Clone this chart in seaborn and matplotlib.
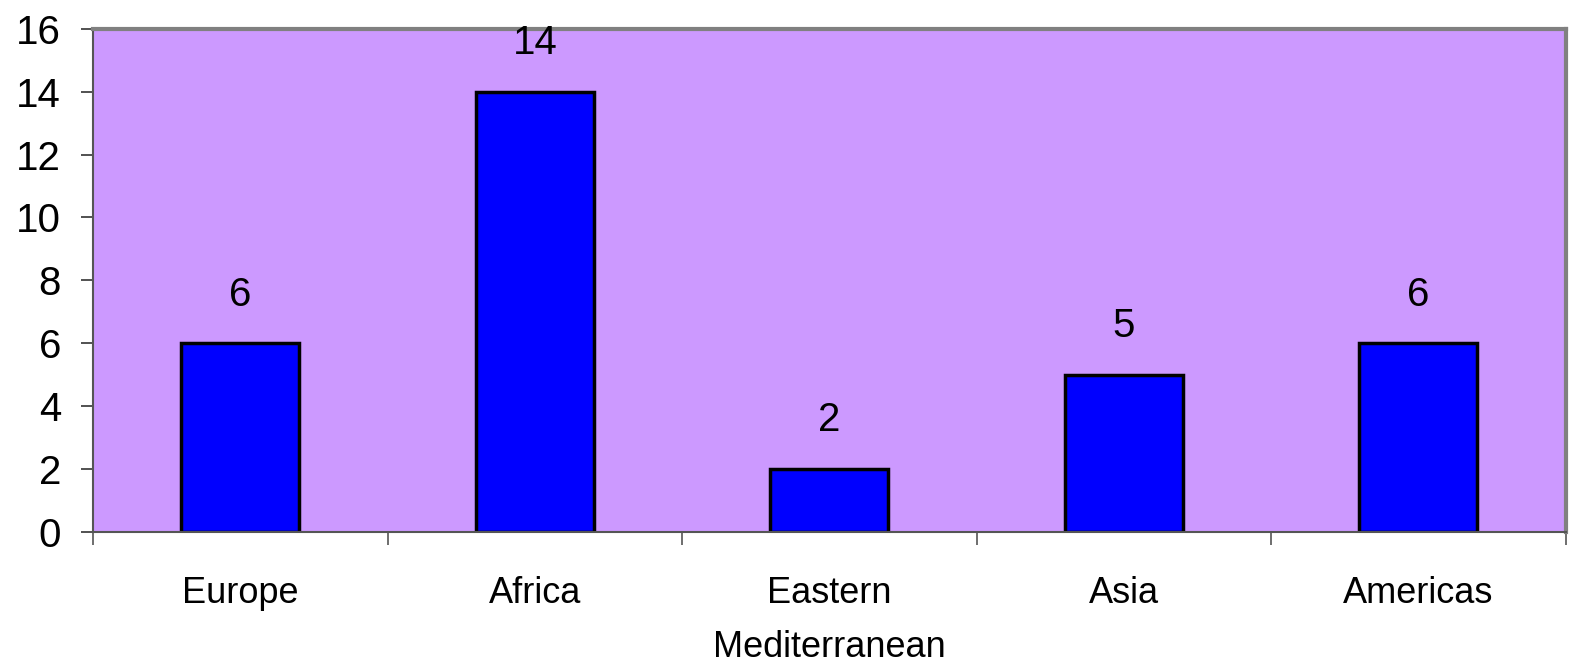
import matplotlib
matplotlib.use("Agg")
import matplotlib.pyplot as plt
import seaborn as sns
import pandas as pd
import numpy as np

regions = ["Europe", "Africa", "Eastern\nMediterranean", "Asia", "Americas"]
counts = [6, 14, 2, 5, 6]
y_ticks = [0, 2, 4, 6, 8, 10, 12, 14, 16]

df = pd.DataFrame({"region": regions, "count": counts})

sns.set_style("white")
plt.rcParams["font.family"] = ["Liberation Sans", "DejaVu Sans"]
plt.rcParams["text.color"] = "black"
plt.rcParams["xtick.labelcolor"] = "black"
plt.rcParams["ytick.labelcolor"] = "black"

fig = plt.figure(figsize=(15.85, 6.63), dpi=100)
ax = fig.add_axes([0.0587, 0.1976, 0.929, 0.759])
ax.set_facecolor("#CC99FF")

sns.barplot(data=df, x="region", y="count", color="#0000FF", width=0.40,
            edgecolor="black", linewidth=2.5, saturation=1, ax=ax)

for i, v in enumerate(counts):
    ax.annotate(str(v), (i, v), xytext=(0, 35), textcoords="offset points",
                ha="center", va="center", fontsize=29)

ax.set_xlim(-0.5, len(regions) - 0.5)
ax.set_ylim(0, 16)
ax.set_yticks(y_ticks)
ax.tick_params(axis="y", which="major", left=True, length=9, width=1.2,
               color="#333333", labelsize=29, pad=14)
ax.tick_params(axis="x", which="major", bottom=False, labelsize=26, pad=28)
for lbl in ax.get_xticklabels():
    lbl.set_linespacing(1.7)
ax.set_xticks(np.arange(-0.5, len(regions)), minor=True)
ax.tick_params(axis="x", which="minor", bottom=True, length=9, width=1.2,
               color="#555555")
ax.set_xlabel("")
ax.set_ylabel("")

for side in ["top", "right"]:
    ax.spines[side].set_color("#808080")
    ax.spines[side].set_linewidth(3)
for side in ["left", "bottom"]:
    ax.spines[side].set_color("#555555")
    ax.spines[side].set_linewidth(1.5)

fig.savefig("out.png", dpi=100)
